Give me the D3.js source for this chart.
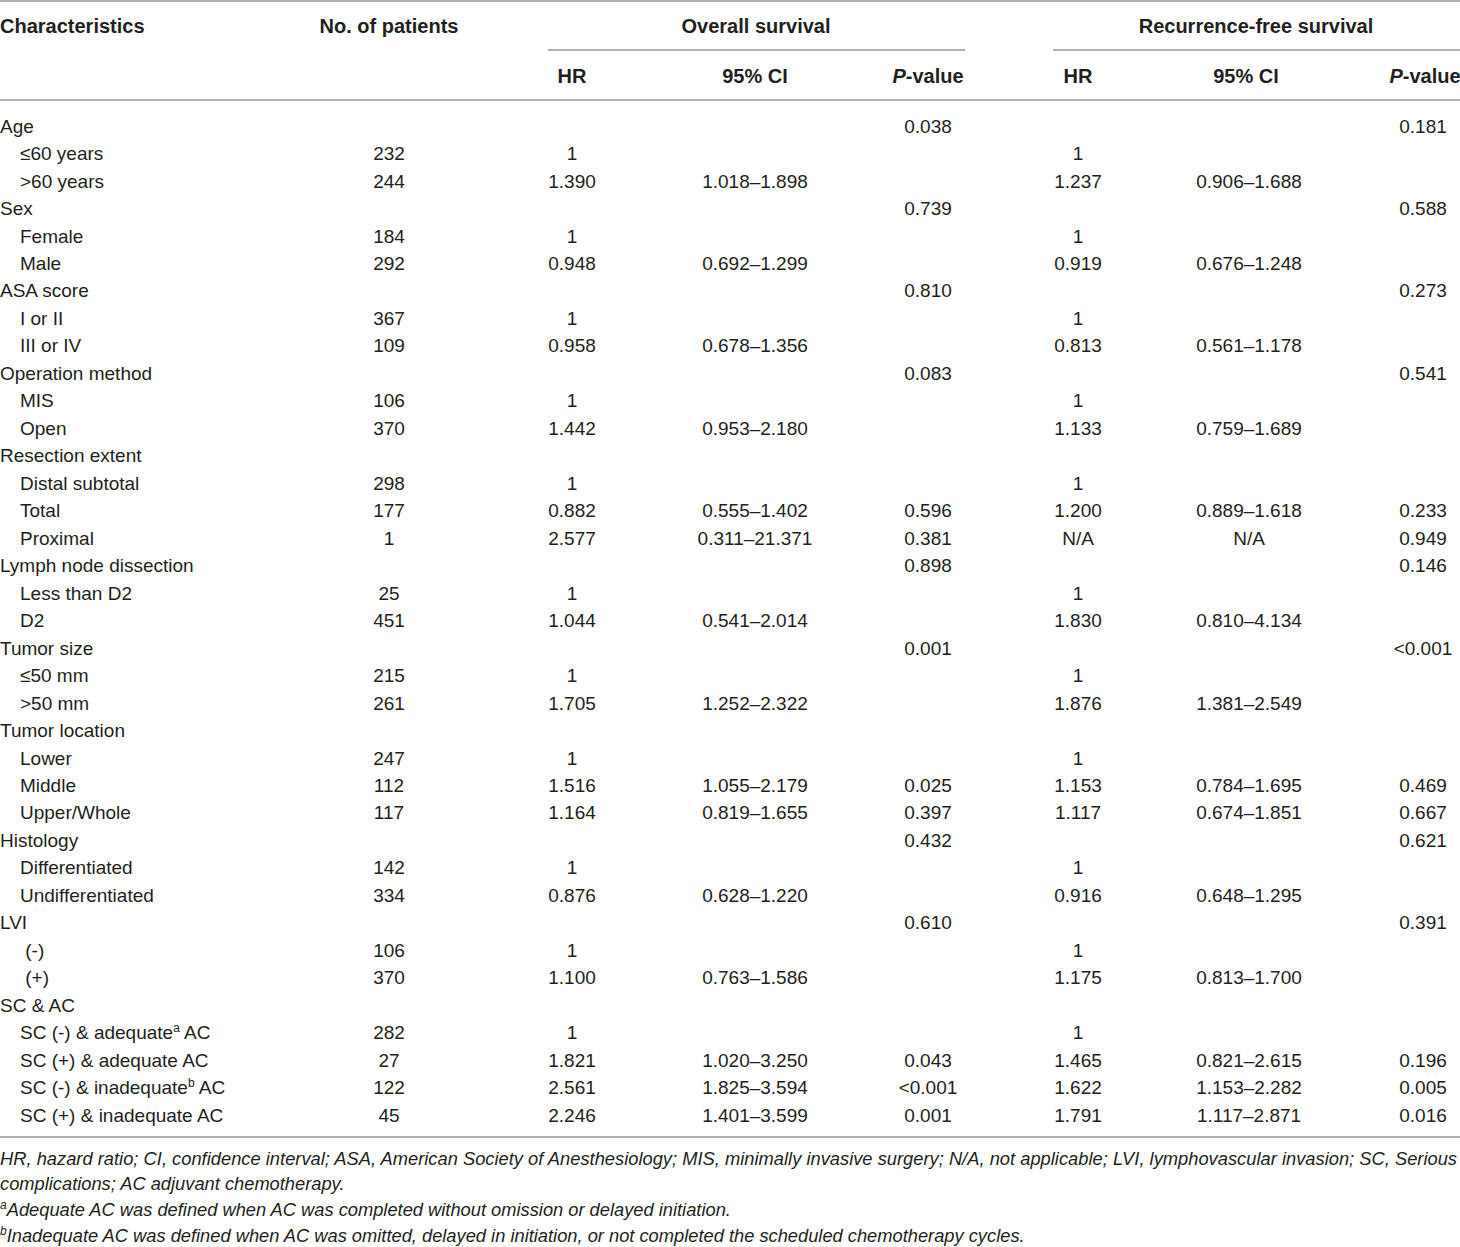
<!DOCTYPE html>
<html><head><meta charset="utf-8">
<script src="https://cdn.jsdelivr.net/npm/d3@7"></script>
<style>
body{margin:0;background:#fff}
svg{display:block}
text{font-family:"Liberation Sans",Arial,Helvetica,sans-serif;fill:#231f20}
</style>
</head><body><svg id="c" width="1460" height="1247"></svg>
<script>
// ---------- data ----------
const labels = [
 "Age","≤60 years",">60 years",
 "Sex","Female","Male",
 "ASA score","I or II","III or IV",
 "Operation method","MIS","Open",
 "Resection extent","Distal subtotal","Total","Proximal",
 "Lymph node dissection","Less than D2","D2",
 "Tumor size","≤50 mm",">50 mm",
 "Tumor location","Lower","Middle","Upper/Whole",
 "Histology","Differentiated","Undifferentiated",
 "LVI","\u00a0(-)","\u00a0(+)",
 "SC & AC","SC (-) & adequate^a AC","SC (+) & adequate AC","SC (-) & inadequate^b AC","SC (+) & inadequate AC"
];
const levels = [0,1,1, 0,1,1, 0,1,1, 0,1,1, 0,1,1,1, 0,1,1, 0,1,1, 0,1,1,1, 0,1,1, 0,1,1, 0,1,1,1,1];
const patients = ["","232","244", "","184","292", "","367","109", "","106","370", "","298","177","1", "","25","451", "","215","261", "","247","112","117", "","142","334", "","106","370", "","282","27","122","45"];
const osHR = ["","1","1.390", "","1","0.948", "","1","0.958", "","1","1.442", "","1","0.882","2.577", "","1","1.044", "","1","1.705", "","1","1.516","1.164", "","1","0.876", "","1","1.100", "","1","1.821","2.561","2.246"];
const osCI = ["","","1.018–1.898", "","","0.692–1.299", "","","0.678–1.356", "","","0.953–2.180", "","","0.555–1.402","0.311–21.371", "","","0.541–2.014", "","","1.252–2.322", "","","1.055–2.179","0.819–1.655", "","","0.628–1.220", "","","0.763–1.586", "","","1.020–3.250","1.825–3.594","1.401–3.599"];
const osP = ["0.038","","", "0.739","","", "0.810","","", "0.083","","", "","","0.596","0.381", "0.898","","", "0.001","","", "","","0.025","0.397", "0.432","","", "0.610","","", "","","0.043","<0.001","0.001"];
const rfsHR = ["","1","1.237", "","1","0.919", "","1","0.813", "","1","1.133", "","1","1.200","N/A", "","1","1.830", "","1","1.876", "","1","1.153","1.117", "","1","0.916", "","1","1.175", "","1","1.465","1.622","1.791"];
const rfsCI = ["","","0.906–1.688", "","","0.676–1.248", "","","0.561–1.178", "","","0.759–1.689", "","","0.889–1.618","N/A", "","","0.810–4.134", "","","1.381–2.549", "","","0.784–1.695","0.674–1.851", "","","0.648–1.295", "","","0.813–1.700", "","","0.821–2.615","1.153–2.282","1.117–2.871"];
const rfsP = ["0.181","","", "0.588","","", "0.273","","", "0.541","","", "","","0.233","0.949", "0.146","","", "<0.001","","", "","","0.469","0.667", "0.621","","", "0.391","","", "","","0.196","0.005","0.016"];
const groupHeaders = ["Overall survival","Recurrence-free survival"];
const subHeaders = ["HR","95% CI","P-value"];
const footnotes = [
 "HR, hazard ratio; CI, confidence interval; ASA, American Society of Anesthesiology; MIS, minimally invasive surgery; N/A, not applicable; LVI, lymphovascular invasion; SC, Serious",
 "complications; AC adjuvant chemotherapy.",
 "^aAdequate AC was defined when AC was completed without omission or delayed initiation.",
 "^bInadequate AC was defined when AC was omitted, delayed in initiation, or not completed the scheduled chemotherapy cycles."
];

// ---------- layout ----------
const W = 1460;
const svg = d3.select("#c");
const FS = 19, HFS = 20, FNS = 18.3;
const lineColor = "#9a9a9a";
const y = d3.scalePoint().domain(d3.range(labels.length)).range([126, 1115]);
const base = (c, fs) => c + fs * 0.35;

const cols = [
  {vals: patients, x: 389},
  {vals: osHR, x: 572},
  {vals: osCI, x: 755},
  {vals: osP, x: 928},
  {vals: rfsHR, x: 1078},
  {vals: rfsCI, x: 1249},
  {vals: rfsP, x: 1423}
];

function hline(x1, x2, yy){
  svg.append("line").attr("x1",x1).attr("x2",x2).attr("y1",yy).attr("y2",yy)
    .attr("stroke",lineColor).attr("stroke-width",1.4);
}
hline(0, W, 1);
hline(548, 965, 50);
hline(1053, W, 50);
hline(0, W, 100);
hline(0, W, 1137);

// rich text with ^x superscripts
function rich(sel, str, supSize){
  const parts = str.split(/(\^[a-z])/);
  let up = false;
  parts.forEach(p=>{
    if(!p) return;
    if(p[0]==="^"){
      sel.append("tspan").attr("font-size",supSize).attr("dy",-7).text(p.slice(1));
      up = true;
    } else {
      const t = sel.append("tspan").text(p);
      if(up){ t.attr("dy",7); up=false; }
    }
  });
}

// headers
const hdr = svg.append("g").attr("font-weight","bold").attr("font-size",HFS);
hdr.append("text").attr("x",0).attr("y",base(26,HFS)).text("Characteristics");
hdr.append("text").attr("x",389).attr("y",base(26,HFS)).attr("text-anchor","middle").text("No. of patients");
hdr.selectAll(".gh").data(groupHeaders).join("text")
  .attr("x",(d,i)=>[756,1256][i]).attr("y",base(26,HFS)).attr("text-anchor","middle").text(d=>d);
[[572,755,928],[1078,1246,1425]].forEach(xs=>{
  subHeaders.forEach((h,i)=>{
    const t = hdr.append("text").attr("x",xs[i]).attr("y",base(76,HFS)).attr("text-anchor","middle");
    if(h==="P-value"){
      t.append("tspan").attr("font-style","italic").text("P");
      t.append("tspan").text("-value");
    } else t.text(h);
  });
});

// body
const body = svg.append("g").attr("font-size",FS);
body.selectAll(".lab").data(labels).join("text")
  .attr("class","lab")
  .attr("x",(d,i)=>levels[i]?20:0)
  .attr("y",(d,i)=>base(y(i),FS))
  .each(function(d){ rich(d3.select(this), d, 12); });

cols.forEach(c=>{
  body.append("g").selectAll("text").data(c.vals).join("text")
    .attr("x",c.x).attr("y",(d,i)=>base(y(i),FS))
    .attr("text-anchor","middle").text(d=>d);
});

// footnotes
const fy = [1159, 1184, 1210, 1236];
const fn = svg.append("g").attr("font-size",FNS).attr("font-style","italic");
footnotes.forEach((f,i)=>{
  const t = fn.append("text").attr("x",0).attr("y",base(fy[i],FNS));
  rich(t, f, 12);
  if(i===0) t.attr("textLength",1457).attr("lengthAdjust","spacing");
});
</script>
</body></html>
